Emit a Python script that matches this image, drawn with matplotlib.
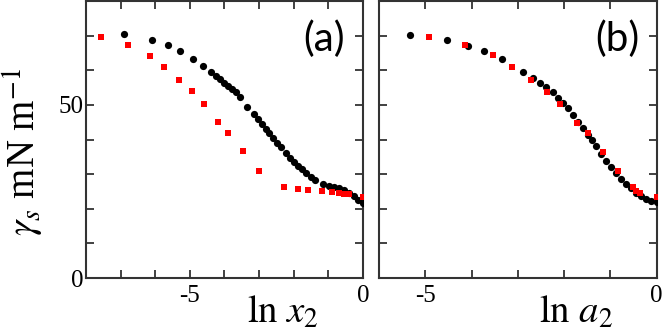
import numpy as np
import matplotlib
matplotlib.use('Agg')
import matplotlib.pyplot as plt

plt.rcParams['font.family'] = ['Liberation Serif', 'DejaVu Serif']
plt.rcParams['mathtext.fontset'] = 'stix'
plt.rcParams['axes.unicode_minus'] = False

# panel (a): surface tension vs ln x2
a_black_x = [-6.90, -6.09, -5.64, -5.27, -4.92, -4.61, -4.39, -4.24, -4.13, -4.01,
             -3.90, -3.79, -3.68, -3.55, -3.35, -3.16, -3.04, -2.92, -2.80, -2.70,
             -2.60, -2.49, -2.36, -2.22, -2.10, -1.99, -1.88, -1.76, -1.64, -1.50,
             -1.38, -1.16, -0.99, -0.85, -0.70, -0.56, -0.41, -0.27, -0.13, 0.0]
a_black_y = [70.4, 68.8, 67.3, 65.7, 63.2, 61.3, 59.6, 58.4, 57.5, 56.4,
             55.5, 54.5, 53.6, 52.2, 49.5, 47.3, 45.9, 44.4, 43.1, 41.8,
             40.5, 39.1, 37.7, 36.1, 34.6, 33.5, 32.5, 31.4, 30.3, 29.3,
             28.4, 27.2, 26.6, 26.3, 26.0, 25.5, 24.7, 23.6, 22.6, 21.8]
a_red_x = [-7.55, -6.78, -6.15, -5.74, -5.30, -4.94, -4.59, -4.20, -3.90, -3.47,
           -2.99, -2.27, -1.88, -1.58, -1.18, -0.90, -0.70, -0.56, -0.41, 0.0]
a_red_y = [69.5, 67.3, 64.1, 60.9, 57.2, 53.9, 50.2, 45.0, 42.0, 36.7,
           31.0, 26.3, 25.7, 25.5, 25.0, 24.9, 24.5, 24.4, 24.3, 23.5]

# panel (b): surface tension vs ln a2
b_black_x = [-5.34, -4.53, -4.08, -3.74, -3.35, -2.88, -2.68, -2.53, -2.39, -2.24,
             -2.14, -2.03, -1.92, -1.81, -1.71, -1.60, -1.49, -1.40, -1.31, -1.20,
             -1.09, -0.99, -0.88, -0.77, -0.66, -0.55, -0.45, -0.34, -0.23, -0.12, 0.0]
b_black_y = [70.2, 68.6, 67.1, 65.6, 63.2, 59.6, 57.7, 56.4, 55.1, 53.6,
             52.1, 50.5, 49.0, 47.1, 45.2, 43.3, 41.3, 39.9, 38.0, 35.9,
             33.9, 32.2, 30.3, 28.7, 27.2, 26.0, 24.7, 23.8, 22.9, 22.3, 21.9]
b_red_x = [-4.91, -4.15, -3.54, -3.12, -2.71, -2.37, -2.08, -1.73, -1.49, -1.17,
           -0.84, -0.52, -0.45, -0.37, 0.0]
b_red_y = [69.5, 67.3, 64.4, 60.9, 57.2, 53.8, 50.2, 44.9, 41.8, 36.5,
           30.8, 26.3, 25.0, 24.5, 23.5]

fig = plt.figure(figsize=(6.66, 3.33), dpi=100)
ax1 = fig.add_axes([0.129, 0.165, 0.416, 0.832])
ax2 = fig.add_axes([0.569, 0.165, 0.417, 0.832])

panels = [(ax1, a_black_x, a_black_y, a_red_x, a_red_y, -8, r'$\ln\,x_2$', '(a)'),
          (ax2, b_black_x, b_black_y, b_red_x, b_red_y, -6, r'$\ln\,a_2$', '(b)')]

for ax, bx, by, rx, ry, xmin, xlab, tag in panels:
    ax.plot(bx, by, 'o', color='black', ms=5.2, mew=0, zorder=3)
    ax.plot(rx, ry, 's', color='#ff0000', ms=5, mew=0, zorder=4)
    ax.set_xlim(xmin, 0)
    ax.set_ylim(0, 80)
    xt = np.arange(xmin, 1)
    ax.set_xticks(xt)
    ax.set_xticklabels(['-5' if v == -5 else ('0' if v == 0 else '') for v in xt])
    ax.set_yticks(np.arange(0, 81, 10))
    ax.tick_params(direction='in', length=6, width=1.3, top=True, right=True,
                   labelsize=18, color='#333333')
    ax.tick_params(axis='x', pad=5)
    ax.tick_params(axis='y', pad=2)
    for s in ax.spines.values():
        s.set_linewidth(1.5)
        s.set_color('#333333')
    ax.set_xlabel(xlab, fontsize=28)
    ax.xaxis.set_label_coords(0.71, -0.162)
    ax.xaxis.label.set_va('baseline')
    ax.text(0.86, 0.863, tag, transform=ax.transAxes, fontsize=29,
            family=['Lato', 'DejaVu Sans'], ha='center', va='center')

ax1.set_yticklabels(['0', '', '', '', '', '50', '', '', ''])
ax2.set_yticklabels([])

ax1.set_ylabel(r'$\gamma_s$ mN m$^{-1}$', fontsize=28)
ax1.yaxis.label.set_rotation_mode('anchor')
ax1.yaxis.label.set_va('baseline')
ax1.yaxis.label.set_ha('center')
ax1.yaxis.set_label_coords(-0.18, 0.455)

fig.savefig('out.png', dpi=100)
